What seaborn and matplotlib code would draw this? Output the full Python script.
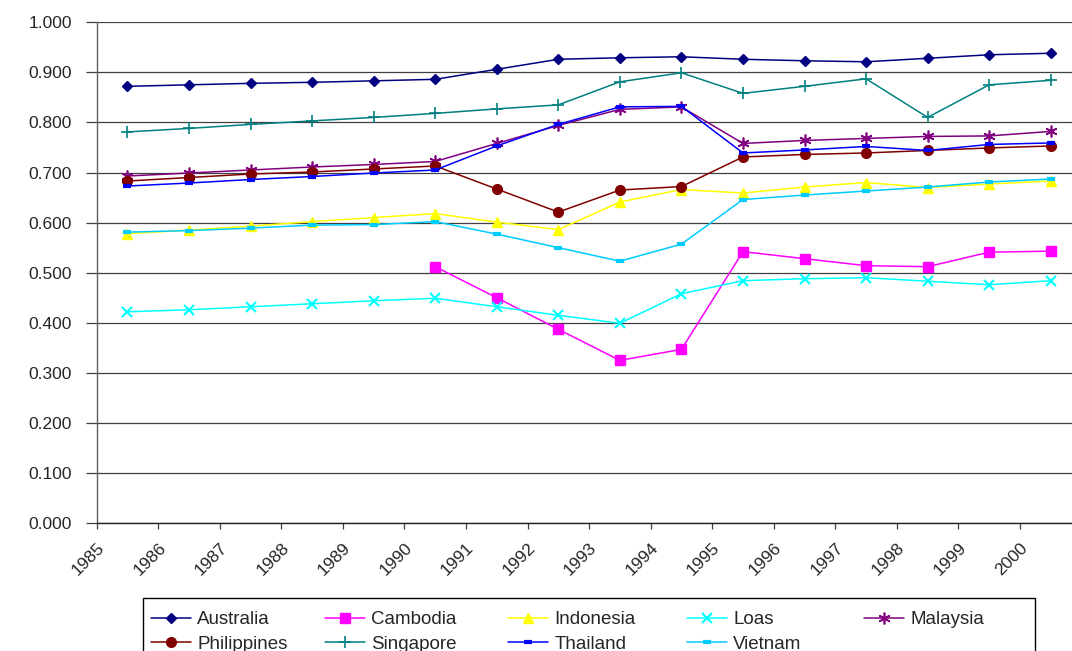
import numpy as np
import pandas as pd
import matplotlib
matplotlib.use("Agg")
import matplotlib.pyplot as plt
import seaborn as sns
from matplotlib.patches import Rectangle

# ---------------- data ----------------
years = [str(y) for y in range(1985, 2001)]
y_ticks = [0.0, 0.1, 0.2, 0.3, 0.4, 0.5, 0.6, 0.7, 0.8, 0.9, 1.0]

australia = [0.872, 0.875, 0.878, 0.880, 0.883, 0.886, 0.906, 0.926,
             0.929, 0.931, 0.926, 0.923, 0.921, 0.928, 0.935, 0.938]
cambodia = [np.nan, np.nan, np.nan, np.nan, np.nan, 0.512, 0.450, 0.387,
            0.325, 0.347, 0.542, 0.528, 0.514, 0.512, 0.541, 0.543]
indonesia = [0.578, 0.585, 0.593, 0.602, 0.610, 0.618, 0.601, 0.586,
             0.641, 0.666, 0.659, 0.671, 0.680, 0.670, 0.677, 0.683]
loas = [0.422, 0.426, 0.432, 0.438, 0.444, 0.449, 0.432, 0.415,
        0.399, 0.458, 0.484, 0.488, 0.490, 0.483, 0.476, 0.484]
malaysia = [0.693, 0.699, 0.705, 0.711, 0.716, 0.722, 0.758, 0.794,
            0.826, 0.831, 0.758, 0.764, 0.768, 0.772, 0.773, 0.782]
philippines = [0.683, 0.690, 0.697, 0.701, 0.707, 0.713, 0.667, 0.621,
               0.665, 0.672, 0.731, 0.736, 0.739, 0.744, 0.749, 0.753]
singapore = [0.781, 0.788, 0.796, 0.803, 0.810, 0.818, 0.827, 0.835,
             0.881, 0.899, 0.858, 0.872, 0.887, 0.810, 0.875, 0.884]
thailand = [0.673, 0.679, 0.686, 0.692, 0.699, 0.705, 0.753, 0.796,
            0.831, 0.832, 0.739, 0.745, 0.752, 0.744, 0.756, 0.759]
vietnam = [0.581, 0.584, 0.589, 0.595, 0.596, 0.602, 0.577, 0.550,
           0.523, 0.557, 0.646, 0.655, 0.663, 0.671, 0.681, 0.687]

series_names = ["Australia", "Cambodia", "Indonesia", "Loas", "Malaysia",
                "Philippines", "Singapore", "Thailand", "Vietnam"]
series_values = [australia, cambodia, indonesia, loas, malaysia,
                 philippines, singapore, thailand, vietnam]

# ---------------- styles ----------------
styles = {
    "Australia":   dict(color="#000080", marker="D", ms=5.2, mew=1.0),
    "Cambodia":    dict(color="#FF00FF", marker="s", ms=7.0, mew=1.0),
    "Indonesia":   dict(color="#FFFF00", marker="^", ms=7.5, mew=1.0),
    "Loas":        dict(color="#00FFFF", marker="x", ms=7.0, mew=1.5),
    "Malaysia":    dict(color="#800080", marker=(6, 2, 0), ms=8.5, mew=1.2),
    "Philippines": dict(color="#800000", marker="o", ms=7.0, mew=1.0),
    "Singapore":   dict(color="#008080", marker="+", ms=8.0, mew=1.2),
    "Thailand":    dict(color="#0000FF", marker="_", ms=5.5, mew=3.0),
    "Vietnam":     dict(color="#00CCFF", marker="_", ms=5.5, mew=3.0),
}

sns.set_style("white")
plt.rcParams["font.family"] = ["Liberation Sans", "DejaVu Sans"]

W, H = 1072, 651
fig = plt.figure(figsize=(W / 100, H / 100), dpi=100)
ax = fig.add_axes([96.7 / W, 127.8 / H, 984.8 / W, 501 / H])

x_pos = np.arange(len(years)) + 0.5
handles = {}
for name, vals in zip(series_names, series_values):
    st = styles[name]
    df = pd.DataFrame({"x": x_pos, "y": vals}).dropna()
    sns.lineplot(data=df, x="x", y="y", ax=ax, color=st["color"],
                 marker=st["marker"], markersize=st["ms"],
                 markeredgecolor=st["color"], markerfacecolor=st["color"],
                 markeredgewidth=st["mew"], linewidth=1.1,
                 errorbar=None, legend=False, label=name)
    handles[name] = ax.get_lines()[-1]

# ---------------- axes ----------------
ax.set_xlim(0, 16)
ax.set_ylim(0, 1.0)
ax.set_xticks(range(len(years)))
ax.set_xticklabels(years, rotation=45, ha="right", va="top",
                   rotation_mode="anchor")
ax.set_yticks(y_ticks)
ax.set_yticklabels([f"{v:.3f}" for v in y_ticks])
ax.set_xlabel("")
ax.set_ylabel("")

ax.yaxis.grid(True, color="#404040", linewidth=0.9)
ax.xaxis.grid(False)
ax.set_axisbelow(True)
for s in ["top", "right"]:
    ax.spines[s].set_visible(False)
ax.spines["left"].set_color("#606060")
ax.spines["bottom"].set_color("#202020")
ax.spines["left"].set_linewidth(1.0)
ax.spines["bottom"].set_linewidth(1.0)

ax.tick_params(axis="y", direction="out", length=7.7, width=0.9,
               color="#404040", pad=10, labelsize=12.5, left=True)
ax.tick_params(axis="x", direction="out", length=4.3, width=0.9,
               color="#404040", pad=8, labelsize=12.5, bottom=True)

# ---------------- legend ----------------
fig.add_artist(Rectangle((143 / W, -0.1), (1035 - 143) / W, (1 - 598 / H) + 0.1,
                         transform=fig.transFigure, fill=False,
                         edgecolor="black", linewidth=1.0))
columns = [["Australia", "Philippines"], ["Cambodia", "Singapore"],
           ["Indonesia", "Thailand"], ["Loas", "Vietnam"], ["Malaysia"]]
col_x = [151, 325, 508, 687, 864]
fs = 13.5
for names, cx in zip(columns, col_x):
    fig.legend([handles[n] for n in names], names, loc="upper left",
               bbox_to_anchor=(cx / W, 1 - 611 / H), frameon=False,
               borderpad=0, borderaxespad=0, fontsize=fs,
               handlelength=2.15, handletextpad=0.32, labelspacing=0.40,
               ncol=1)

fig.savefig("out.png", dpi=100)
